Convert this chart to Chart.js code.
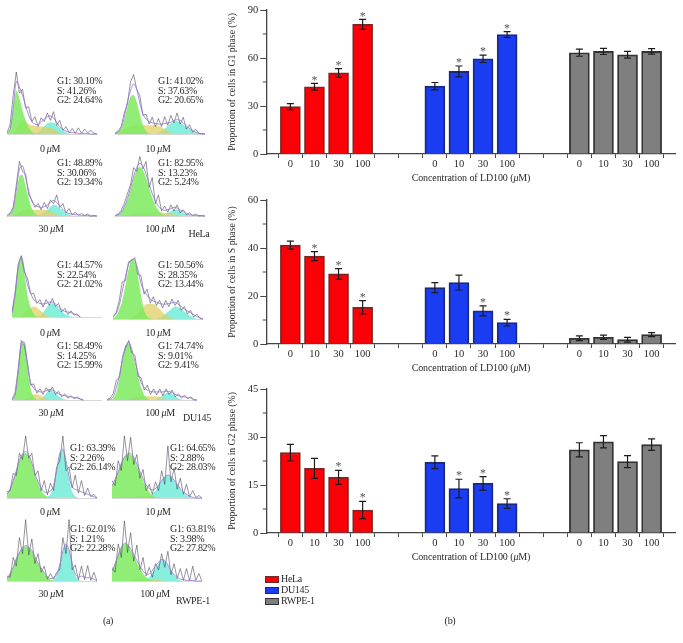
<!DOCTYPE html>
<html lang="en">
<head>
<meta charset="UTF-8">
<title>Cell cycle distribution, LD100</title>
<script src="https://cdn.jsdelivr.net/npm/chart.js"></script>
<style>
    html, body { margin: 0; background: #fff; }
    body { position: relative; width: 683px; height: 643px; overflow: hidden; font-family: "Liberation Serif", serif; color: #2a2a2a; }
    canvas { position: absolute; filter: blur(0.3px); }
    canvas.flow { filter: blur(0.6px); }
    .t { position: absolute; white-space: nowrap; font-size: 10px; letter-spacing: -0.3px; line-height: 1; transform: translateY(-50%); filter: blur(0.25px); }
    .c { transform: translate(-50%, -50%); }
    .xt { letter-spacing: -0.1px; }
    .sw { position: absolute; width: 12px; height: 5px; border: 1px solid #333; }
</style>
</head>
<body>
<script>
// bar chart values
const xLabels = ['', '0', '10', '30', '100', '', '', '0', '10', '30', '100', '', '', '0', '10', '30', '100', ''];
const groupStart = [1, 7, 13];

const g1Hela = [29.6, 42, 50.7, 81];
const g1Du = [42.4, 51.6, 59.5, 74.7];
const g1Rwpe = [63.3, 64.1, 62, 64.1];
const g1HelaErr = [1.9, 2.1, 2.7, 3.1];
const g1DuErr = [2.3, 3.4, 2.3, 1.8];
const g1RwpeErr = [2.2, 1.9, 2.1, 1.7];
const g1Stars = [[1, 2, 3], [1, 2, 3], []];

const sHela = [41.2, 36.6, 29.2, 15.3];
const sDu = [23.5, 25.6, 13.8, 8.9];
const sRwpe = [2.4, 2.8, 1.8, 3.9];
const sHelaErr = [1.7, 1.9, 2.2, 2.8];
const sDuErr = [2.1, 3.1, 2.1, 1.4];
const sRwpeErr = [1, 0.9, 1, 0.8];
const sStars = [[1, 2, 3], [2, 3], []];

const g2Hela = [25.1, 20.2, 17.4, 7.2];
const g2Du = [22.1, 13.9, 15.5, 9.2];
const g2Rwpe = [26, 28.5, 22.3, 27.6];
const g2HelaErr = [2.6, 3.1, 2.2, 2.7];
const g2DuErr = [2, 2.9, 2.1, 1.5];
const g2RwpeErr = [2.2, 1.9, 1.9, 1.8];
const g2Stars = [[2, 3], [1, 2, 3], []];

const legendNames = ['HeLa', 'DU145', 'RWPE-1'];

// flow cytometry histograms, 30 bins each
const hela0G1 = [0,8,40,70,58,38,22,10,4,1,0];
const hela0S = [0,0,2,8,16,22,20,16,14,13,12,12,12,11,10,8,5,2,0];
const hela0G2 = [0,0,0,0,0,0,0,0,0,0,3,7,12,17,19,18,14,10,6,3,1,0];
const hela0Fit = [1,8,42,85,76,62,46,30,20,16,15,19,24,28,29,26,19,12,7,5,3,2,2,1,1,1,1,0,0,0];
const hela0Raw = [2,15,62,100,66,72,42,44,20,28,12,26,20,34,22,36,14,22,6,12,2,9,1,10,1,8,2,6,1,0];

const hela10G1 = [1,3,8,22,44,60,63,52,32,15,5,1,0];
const hela10S = [0,1,4,8,11,13,14,14,14,14,14,14,14,14,13,11,8,5,2,0];
const hela10G2 = [0,0,0,0,0,0,0,0,0,0,0,0,0,0,2,5,9,13,17,20,21,19,15,11,8,5,3,1,0];
const hela10Fit = [1,3,10,27,52,70,81,72,50,32,24,20,18,17,16,16,17,18,19,22,23,22,18,13,9,6,3,1,0,0];
const hela10Raw = [1,5,12,34,48,84,96,72,62,30,32,16,27,12,25,12,28,14,30,18,34,16,27,8,15,3,8,1,1,0];

const hela30G1 = [0,2,10,36,64,66,48,28,12,4,1,0];
const hela30S = [0,0,1,3,6,9,10,10,10,10,10,10,10,9,8,5,3,1,0];
const hela30G2 = [0,0,0,0,0,0,0,0,0,0,1,3,6,10,15,18,17,13,9,5,3,1,0];
const hela30Fit = [0,3,12,42,76,81,62,40,24,17,15,14,15,18,22,25,22,16,11,6,4,3,2,2,1,1,1,0,0,0];
const hela30Raw = [1,5,14,50,88,72,68,34,26,14,20,10,22,12,26,20,34,14,20,5,12,2,6,1,4,1,3,0,1,0];

const hela100G1 = [0,2,6,14,26,42,60,74,80,74,62,46,30,18,9,4,1,0];
const hela100S = [0,0,0,1,2,3,4,5,6,6,6,6,6,6,6,6,5,5,4,3,2,1,0];
const hela100G2 = [0,0,0,0,0,0,0,0,0,0,0,0,0,0,0,1,3,5,8,10,10,8,5,3,1,0];
const hela100Fit = [0,2,6,15,28,45,64,78,85,80,68,52,36,24,16,11,9,10,12,14,13,10,7,4,2,1,1,1,0,0];
const hela100Raw = [1,3,9,20,36,50,78,72,96,76,88,46,62,20,34,8,16,6,18,8,18,5,10,2,5,1,3,0,1,0];

const du0G1 = [6,35,80,96,70,35,15,5,1,0];
const du0S = [0,0,0,2,6,11,15,17,15,11,7,3,1,0];
const du0G2 = [0,0,0,0,0,0,0,0,0,2,7,14,21,22,19,14,9,5,3,1,0];
const du0Fit = [6,35,80,97,76,52,38,28,24,22,21,22,24,24,21,16,12,9,8,7,5,3,0];
const du0Raw = [8,40,85,99,72,62,38,38,22,28,16,28,19,30,17,22,8,14,4,10,3,5,0];

const du10G1 = [2,5,15,30,55,80,96,92,70,40,15,4,1,0];
const du10S = [0,0,0,0,0,0,2,5,10,16,21,24,25,24,21,16,11,6,3,1,0];
const du10G2 = [0,0,0,0,0,0,0,0,0,0,0,0,0,0,0,2,5,9,13,17,20,19,16,12,8,5,2,0];
const du10Fit = [3,8,22,45,68,88,96,95,80,58,45,38,32,29,27,25,24,24,25,26,27,24,20,16,13,10,7,4,2,0];
const du10Raw = [4,10,30,60,62,92,94,99,72,70,40,48,26,36,22,30,18,30,20,32,22,30,14,20,8,14,3,8,1,0];

const du30G1 = [0,8,45,90,90,50,18,5,1,0];
const du30S = [0,0,0,0,1,3,6,9,9,8,5,2,0];
const du30G2 = [0,0,0,0,0,0,0,0,0,1,5,11,16,15,11,6,3,1,0];
const du30Fit = [0,8,46,92,93,55,28,19,15,13,13,15,17,16,13,10,8,7,6,5,4,3,2,0];
const du30Raw = [1,12,50,96,88,60,24,26,11,18,9,20,13,21,9,14,5,10,3,7,2,5,1,0];

const du100G1 = [0,1,3,12,35,60,85,92,78,58,38,20,8,2,0];
const du100S = [0,0,0,0,0,0,0,1,3,5,6,6,6,6,6,6,6,5,3,1,0];
const du100G2 = [0,0,0,0,0,0,0,0,0,0,0,0,0,0,0,0,1,4,8,11,12,10,6,3,1,0];
const du100Fit = [0,1,5,20,40,64,87,93,82,62,44,28,20,16,14,13,13,13,13,14,14,12,9,7,6,5,4,3,0,0];
const du100Raw = [1,3,10,32,36,70,84,96,76,72,38,36,16,24,9,18,8,18,7,18,9,16,5,10,3,8,2,5,1,0];

const rw0G1 = [6,14,28,44,60,70,73,68,54,38,24,13,6,2,0];
const rw0S = [0,0,0,0,1,1,2,2,2,2,2,2,2,2,1,1,0];
const rw0G2 = [0,0,0,0,0,0,0,0,0,0,0,0,0,2,6,18,42,70,77,58,30,10,3,0];
const rw0Fit = [6,14,28,44,61,71,75,70,56,40,26,16,10,9,11,20,44,72,79,60,34,18,14,12,10,8,6,4,2,0];
const rw0Raw = [10,12,40,36,72,62,100,64,72,36,44,12,28,5,24,12,50,60,100,44,50,16,37,8,28,4,16,2,6,0];

const rw10G1 = [20,30,42,56,66,70,70,64,52,40,28,18,10,4,1,0];
const rw10S = [0,0,0,0,0,1,2,2,3,3,3,3,3,3,2,1,0];
const rw10G2 = [0,0,0,0,0,0,0,0,0,0,0,0,2,6,12,20,28,34,37,34,28,21,14,9,5,2,0];
const rw10Fit = [20,30,42,56,66,71,72,66,55,43,31,21,15,13,15,21,28,34,37,35,29,22,15,10,6,3,1,0,0,0];
const rw10Raw = [28,20,60,44,100,60,98,54,70,32,46,12,22,6,26,12,44,22,84,26,48,14,32,6,22,2,12,1,4,0];

const rw30G1 = [4,12,22,36,46,53,56,54,48,38,28,20,12,6,2,0];
const rw30S = [0,0,0,0,0,0,1,1,1,1,1,1,1,1,1,0];
const rw30G2 = [0,0,0,0,0,0,0,0,0,0,0,0,0,0,0,2,8,24,46,58,48,26,9,2,0];
const rw30Fit = [4,12,22,36,46,54,57,55,49,39,29,21,13,7,4,5,10,26,48,60,50,28,11,6,8,6,5,5,3,0];
const rw30Raw = [8,6,38,24,70,44,99,42,68,28,44,14,24,3,12,3,14,18,70,44,99,18,26,2,24,2,25,1,14,0];

const rw100G1 = [16,28,42,54,60,58,50,40,30,20,12,6,2,0];
const rw100S = [0,0,0,0,0,0,1,2,2,3,3,3,3,3,3,2,1,0];
const rw100G2 = [0,0,0,0,0,0,0,0,0,0,0,2,6,13,21,28,34,32,25,16,9,4,1,0];
const rw100Fit = [16,28,42,54,61,59,52,43,33,24,16,12,11,17,24,30,35,33,26,17,10,6,3,2,1,1,1,0,0,0];
const rw100Raw = [22,14,60,38,97,46,78,32,58,18,38,8,22,6,28,18,44,22,48,10,28,4,20,1,20,1,24,1,12,0];

const bins = Array.from({ length: 30 }, (_, i) => i);

const fontName = '"Liberation Serif", serif';
const barColors = ['#fb0006', '#1a3cf2', '#7f7f7f'];
const barEdges = ['#7a2626', '#1b2a78', '#333333'];

function addText(html, x, y, cls) {
    const d = document.createElement('div');
    d.className = 't' + (cls ? ' ' + cls : '');
    d.style.left = x + 'px';
    d.style.top = y + 'px';
    d.innerHTML = html;
    document.body.appendChild(d);
}

function addCanvas(x, y, w, h, cls) {
    const c = document.createElement('canvas');
    c.width = w;
    c.height = h;
    c.style.left = x + 'px';
    c.style.top = y + 'px';
    if (cls) c.className = cls;
    document.body.appendChild(c);
    return c.getContext('2d');
}

// place 4 values of a cell line in its slots on the 18 position axis
function slots(vals, g) {
    const out = xLabels.map(() => null);
    vals.forEach((v, i) => { out[groupStart[g] + i] = v; });
    return out;
}

function barChart(top, title, maxY, step, series, errs, stars) {
    const whiskers = {
        id: 'whiskers',
        afterDatasetsDraw(chart) {
            const { ctx, scales } = chart;
            ctx.save();
            // minor ticks on the y axis
            ctx.strokeStyle = '#444';
            ctx.lineWidth = 1;
            for (let v = step / 2; v < maxY; v += step) {
                const y = scales.y.getPixelForValue(v);
                ctx.beginPath();
                ctx.moveTo(scales.y.right - 3.5, y);
                ctx.lineTo(scales.y.right, y);
                ctx.stroke();
            }
            series.forEach((vals, g) => {
                vals.forEach((v, i) => {
                    const x = scales.x.getPixelForValue(groupStart[g] + i);
                    const y1 = scales.y.getPixelForValue(v + errs[g][i]);
                    const y2 = scales.y.getPixelForValue(v - errs[g][i]);
                    ctx.strokeStyle = '#1c1c1c';
                    ctx.lineWidth = 1.2;
                    ctx.beginPath();
                    ctx.moveTo(x, y1); ctx.lineTo(x, y2);
                    ctx.moveTo(x - 3.5, y1); ctx.lineTo(x + 3.5, y1);
                    ctx.moveTo(x - 3.5, y2); ctx.lineTo(x + 3.5, y2);
                    ctx.stroke();
                    if (stars[g].includes(i)) {
                        ctx.fillStyle = '#555';
                        ctx.font = '12px ' + fontName;
                        ctx.textAlign = 'center';
                        ctx.textBaseline = 'middle';
                        ctx.fillText('*', x, y1 - 3);
                    }
                });
            });
            ctx.restore();
        }
    };

    new Chart(addCanvas(220, top, 463, 190), {
        type: 'bar',
        data: {
            labels: xLabels,
            datasets: series.map((vals, g) => ({
                data: slots(vals, g),
                backgroundColor: barColors[g],
                borderColor: barEdges[g],
                borderWidth: 1.8,
                barThickness: 20,
                grouped: false
            }))
        },
        options: {
            responsive: false,
            animation: false,
            layout: { padding: { top: 10, right: 7.3, left: 0, bottom: 0 } },
            plugins: { legend: { display: false }, tooltip: { enabled: false } },
            scales: {
                x: {
                    offset: false,
                    afterFit(s) { s.height = 36; },
                    grid: { display: true, drawOnChartArea: false, tickLength: 4, tickColor: '#444' },
                    border: { color: '#444', width: 1.3 },
                    ticks: { autoSkip: false, maxRotation: 0, padding: 0, color: '#2a2a2a', font: { family: fontName, size: 10.5 } }
                },
                y: {
                    min: 0,
                    max: maxY,
                    afterFit(s) { s.width = 46.3; },
                    grid: { display: true, drawOnChartArea: false, tickLength: 6, tickColor: '#444' },
                    border: { color: '#444', width: 1.3 },
                    ticks: { stepSize: step, padding: 2, color: '#2a2a2a', font: { family: fontName, size: 10.5 } },
                    title: { display: true, text: title, color: '#2a2a2a', padding: { top: 7, bottom: 0 }, font: { family: fontName, size: 9.7 } }
                }
            }
        },
        plugins: [whiskers]
    });
}

barChart(0, 'Proportion of cells in G1 phase (%)', 90, 30, [g1Hela, g1Du, g1Rwpe], [g1HelaErr, g1DuErr, g1RwpeErr], g1Stars);
barChart(190, 'Proportion of cells in S phase (%)', 60, 20, [sHela, sDu, sRwpe], [sHelaErr, sDuErr, sRwpeErr], sStars);
barChart(379, 'Proportion of cells in G2 phase (%)', 45, 15, [g2Hela, g2Du, g2Rwpe], [g2HelaErr, g2DuErr, g2RwpeErr], g2Stars);

[178, 368, 557].forEach(y => addText('Concentration of LD100 (<i>μ</i>M)', 471, y, 'c xt'));

function flowPanel(left, base, g1, s, g2, fit, raw) {
    const line = (data, fill) => ({
        data,
        fill: fill ? 'origin' : false,
        backgroundColor: fill || 'transparent',
        pointRadius: 0,
        borderWidth: 0,
        tension: 0.3,
        clip: false
    });
    new Chart(addCanvas(left, base - 70, 90, 72, 'flow'), {
        type: 'line',
        data: {
            labels: bins,
            datasets: [
                { ...line(fit), borderColor: 'rgba(150,110,215,0.8)', borderWidth: 1 },
                { ...line(raw), borderColor: 'rgba(60,60,75,0.6)', borderWidth: 0.9, tension: 0 },
                line(g1, 'rgba(125,235,95,0.85)'),
                line(s, 'rgba(222,208,100,0.75)'),
                line(g2, 'rgba(115,235,215,0.85)')
            ]
        },
        options: {
            responsive: false,
            animation: false,
            layout: { padding: { bottom: 2 } },
            plugins: { legend: { display: false }, tooltip: { enabled: false } },
            scales: {
                x: { ticks: { display: false }, grid: { display: false }, border: { color: '#d8d8d8' } },
                y: { display: false, min: 0, max: 100 }
            }
        }
    });
}

flowPanel(7, 142, hela0G1, hela0S, hela0G2, hela0Fit, hela0Raw);
flowPanel(115, 142, hela10G1, hela10S, hela10G2, hela10Fit, hela10Raw);
flowPanel(7, 224, hela30G1, hela30S, hela30G2, hela30Fit, hela30Raw);
flowPanel(115, 224, hela100G1, hela100S, hela100G2, hela100Fit, hela100Raw);
flowPanel(12, 325, du0G1, du0S, du0G2, du0Fit, du0Raw);
flowPanel(113, 327, du10G1, du10S, du10G2, du10Fit, du10Raw);
flowPanel(12, 408, du30G1, du30S, du30G2, du30Fit, du30Raw);
flowPanel(107, 408, du100G1, du100S, du100G2, du100Fit, du100Raw);
flowPanel(7, 506, rw0G1, rw0S, rw0G2, rw0Fit, rw0Raw);
flowPanel(112, 506, rw10G1, rw10S, rw10G2, rw10Fit, rw10Raw);
flowPanel(7, 589, rw30G1, rw30S, rw30G2, rw30Fit, rw30Raw);
flowPanel(112, 589, rw100G1, rw100S, rw100G2, rw100Fit, rw100Raw);

// percentages next to each histogram
function stats(x, y, g1, s, g2) {
    addText('G1: ' + g1 + '%', x, y);
    addText('S: ' + s + '%', x, y + 9.5);
    addText('G2: ' + g2 + '%', x, y + 19);
}
stats(57, 81, '30.10', '41.26', '24.64');
stats(158, 81, '41.02', '37.63', '20.65');
stats(57, 163, '48.89', '30.06', '19.34');
stats(158, 163, '82.95', '13.23', '5.24');
stats(57, 265, '44.57', '22.54', '21.02');
stats(158, 265, '50.56', '28.35', '13.44');
stats(57, 346, '58.49', '14.25', '15.99');
stats(158, 346, '74.74', '9.01', '9.41');
stats(70, 448, '63.39', '2.26', '26.14');
stats(170, 448, '64.65', '2.88', '28.03');
stats(70, 529, '62.01', '1.21', '22.28');
stats(170, 529, '63.81', '3.98', '27.82');

const dose = (n) => n + ' <i>μ</i>M';
addText(dose(0), 50, 149, 'c');
addText(dose(10), 158, 149, 'c');
addText(dose(30), 51, 229, 'c');
addText(dose(100), 160, 229, 'c');
addText(dose(0), 50, 333, 'c');
addText(dose(10), 158, 333, 'c');
addText(dose(30), 51, 413, 'c');
addText(dose(100), 160, 413, 'c');
addText(dose(0), 50, 512, 'c');
addText(dose(10), 158, 512, 'c');
addText(dose(30), 51, 594, 'c');
addText(dose(100), 155, 594, 'c');

addText('HeLa', 199, 234, 'c');
addText('DU145', 197, 418, 'c');
addText('RWPE-1', 193, 601, 'c');
addText('(a)', 108, 621, 'c');
addText('(b)', 450, 621, 'c');

// legend under the last bar chart
legendNames.forEach((name, i) => {
    const sw = document.createElement('div');
    sw.className = 'sw';
    sw.style.left = '265px';
    sw.style.top = (575.5 + i * 11.3) + 'px';
    sw.style.background = barColors[i];
    sw.style.borderColor = barEdges[i];
    document.body.appendChild(sw);
    addText(name, 281, 578.5 + i * 11.3);
});
</script>
</body>
</html>
